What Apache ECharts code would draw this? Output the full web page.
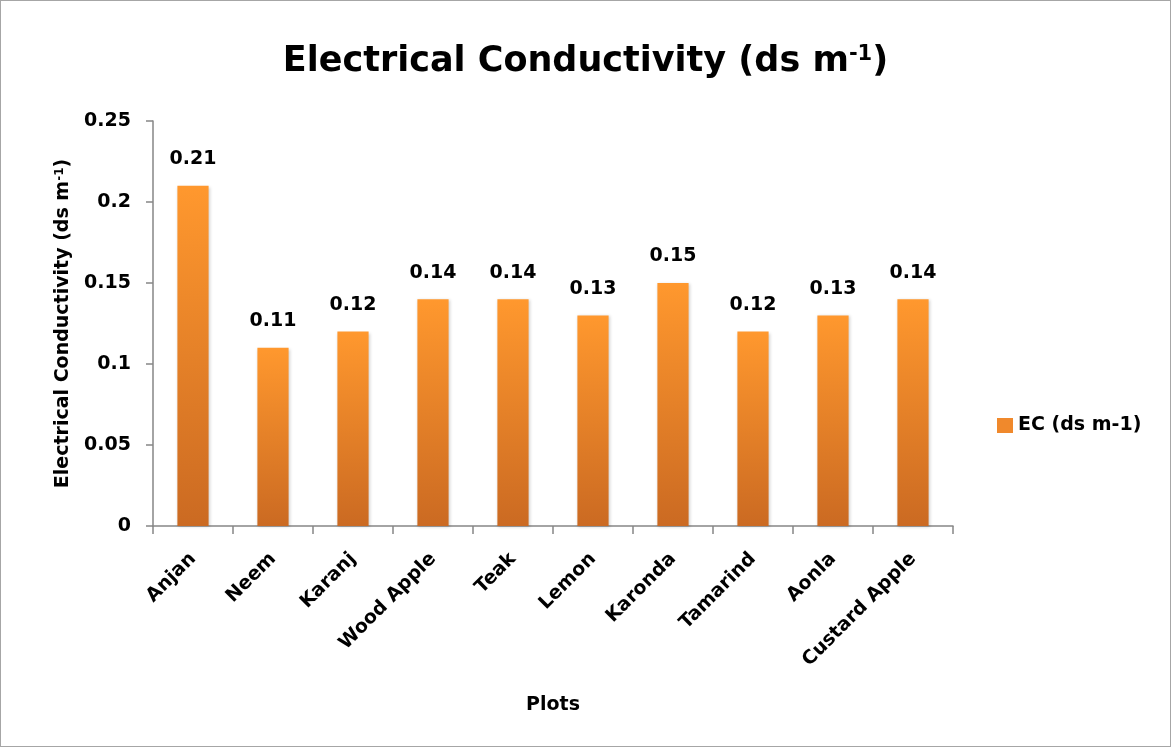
<!DOCTYPE html>
<html>
<head>
<meta charset="utf-8">
<script src="https://cdn.jsdelivr.net/npm/echarts@6/dist/echarts.min.js"></script>
<style>
  html, body { margin: 0; padding: 0; background: #fff; }
  #chart { width: 1171px; height: 747px; box-sizing: border-box; border: 1px solid #a6a6a6; }
</style>
</head>
<body>
<div id="chart"></div>
<script>
// EC values per plot
const categories = ['Anjan', 'Neem', 'Karanj', 'Wood Apple', 'Teak', 'Lemon', 'Karonda', 'Tamarind', 'Aonla', 'Custard Apple'];
const ecValues = [0.21, 0.11, 0.12, 0.14, 0.14, 0.13, 0.15, 0.12, 0.13, 0.14];
const yTicks = [0, 0.05, 0.1, 0.15, 0.2, 0.25];
const seriesName = 'EC (ds m-1)';

const FONT = '"DejaVu Sans", "Open Sans", sans-serif';
const AXIS_GRAY = '#868686';
const chart = echarts.init(document.getElementById('chart'));

const barFill = new echarts.graphic.LinearGradient(0, 0, 0, 1, [
  { offset: 0, color: '#ff982e' },
  { offset: 1, color: '#cb6a22' }
]);

const boldText = size => ({ fontFamily: FONT, fontWeight: 'bold', fontSize: size, color: '#000' });

chart.setOption({
  animation: false,
  textStyle: { fontFamily: FONT },
  title: {
    text: '{t|Electrical Conductivity (ds m}{s|-1}{t|)}',
    left: 'center',
    top: 38,
    textStyle: {
      rich: {
        t: boldText(35),
        s: Object.assign(boldText(21), { verticalAlign: 'top' })
      }
    }
  },
  legend: {
    orient: 'vertical',
    left: 996,
    top: 415,
    padding: 0,
    itemWidth: 16,
    itemHeight: 15,
    itemGap: 6,
    data: [{ name: seriesName, icon: 'rect', itemStyle: { color: '#f0892c' } }],
    textStyle: boldText(19)
  },
  grid: { left: 152, right: 217, top: 120, bottom: 220, containLabel: false },
  xAxis: {
    type: 'category',
    data: categories,
    name: 'Plots',
    nameLocation: 'middle',
    nameGap: 170,
    nameTextStyle: boldText(19),
    axisLine: { lineStyle: { color: AXIS_GRAY, width: 1.5 } },
    axisTick: { show: true, alignWithLabel: false, length: 8, lineStyle: { color: AXIS_GRAY, width: 1.5 } },
    axisLabel: Object.assign(boldText(19), { rotate: 45, margin: 30, interval: 0 })
  },
  yAxis: {
    type: 'value',
    min: 0,
    max: 0.25,
    interval: 0.05,
    name: '{t|Electrical Conductivity (ds m}{s|-1}{t|)}',
    nameLocation: 'middle',
    nameGap: 80,
    nameTextStyle: {
      rich: {
        t: boldText(19),
        s: Object.assign(boldText(12), { verticalAlign: 'top' })
      }
    },
    splitLine: { show: false },
    axisLine: { show: true, lineStyle: { color: AXIS_GRAY, width: 1.5 } },
    axisTick: { show: true, length: 7, inside: false, lineStyle: { color: AXIS_GRAY, width: 1.5 } },
    axisLabel: Object.assign(boldText(19), {
      margin: 22,
      formatter: v => {
        const hit = yTicks.find(t => Math.abs(t - v) < 1e-9);
        return hit === undefined ? '' : String(hit);
      }
    })
  },
  series: [{
    name: seriesName,
    type: 'bar',
    data: ecValues,
    barWidth: '39%',
    itemStyle: {
      color: barFill,
      shadowColor: 'rgba(0,0,0,0.18)',
      shadowBlur: 3,
      shadowOffsetX: 1,
      shadowOffsetY: 1
    },
    label: Object.assign(boldText(19), {
      show: true,
      position: 'top',
      distance: 17,
      formatter: p => p.value.toFixed(2)
    })
  }]
});
</script>
</body>
</html>
